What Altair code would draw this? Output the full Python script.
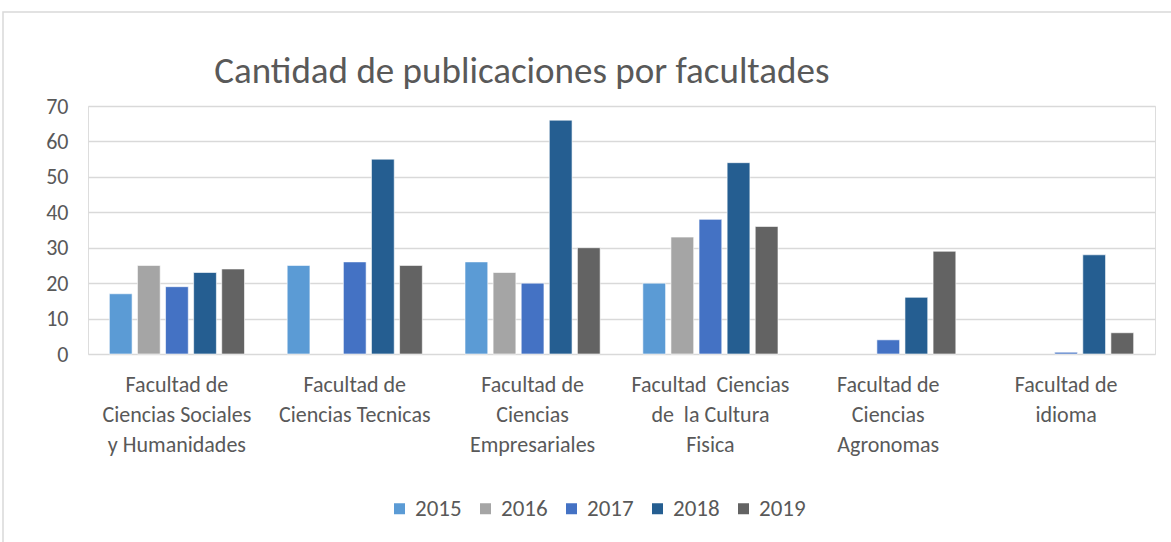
import altair as alt
import pandas as pd

categories = [
    "Facultad de\nCiencias Sociales\ny Humanidades",
    "Facultad de\nCiencias Tecnicas",
    "Facultad de\nCiencias\nEmpresariales",
    "Facultad\u00a0 Ciencias\nde\u00a0 la Cultura\nFisica",
    "Facultad de\nCiencias\nAgronomas",
    "Facultad de\nidioma",
]
years = ["2015", "2016", "2017", "2018", "2019"]
v2015 = [17, 25, 26, 20, 0, 0]
v2016 = [25, 0, 23, 33, 0, 0]
v2017 = [19, 26, 20, 38, 4, 0.5]
v2018 = [23, 55, 66, 54, 16, 28]
v2019 = [24, 25, 30, 36, 29, 6]
colors = ["#5B9BD5", "#A5A5A5", "#4472C4", "#255E91", "#636363"]

series = [v2015, v2016, v2017, v2018, v2019]
rows = []
for yr, vals in zip(years, series):
    for c, v in zip(categories, vals):
        rows.append({"Facultad": c, "Año": yr, "Valor": v})
df = pd.DataFrame(rows)

FONT = "Carlito, Lato, 'Liberation Sans Narrow', 'Open Sans', sans-serif"
TXT = "#595959"

bars = alt.Chart(df).transform_filter("datum.Valor > 0").mark_bar(
    stroke="white", strokeWidth=0.6
).encode(
    x=alt.X("Facultad:N", sort=categories, title=None,
            scale=alt.Scale(domain=categories, paddingInner=0.24, paddingOuter=0.12),
            axis=alt.Axis(labelExpr="split(datum.label, '\\n')", labelAngle=0,
                          labelFontSize=22, labelLineHeight=30, labelColor=TXT,
                          labelFont=FONT, domain=False, ticks=False, labelPadding=20,
                          labelLimit=300)),
    xOffset=alt.XOffset("Año:N", scale=alt.Scale(domain=years, paddingInner=0.19)),
    y=alt.Y("Valor:Q", title=None,
            scale=alt.Scale(domain=[0, 70]),
            axis=alt.Axis(values=[0, 10, 20, 30, 40, 50, 60, 70], labelFontSize=22,
                          labelColor=TXT, labelFont=FONT, domain=False, ticks=False,
                          labelPadding=20, gridColor="#D9D9D9", gridWidth=1.5)),
    color=alt.Color("Año:N",
                    scale=alt.Scale(domain=years, range=colors),
                    legend=alt.Legend(orient="none", direction="horizontal", title=None,
                                      legendX=300, legendY=391,
                                      symbolType="square", symbolSize=121,
                                      symbolStrokeWidth=0, labelFontSize=23,
                                      labelColor=TXT, labelFont=FONT,
                                      columnPadding=12, labelOffset=4)),
)

border = alt.Chart(pd.DataFrame({"a": [0]})).mark_rect(
    fill=None, stroke="#D9D9D9", strokeWidth=1.5
).encode(x=alt.value(-85), x2=alt.value(1100), y=alt.value(-94), y2=alt.value(460))

chart = alt.layer(bars, border).properties(
    width=1067, height=248,
    autosize=alt.AutoSizeParams(type="none"),
    padding={"left": 88, "top": 106, "right": 16, "bottom": 188},
    title=alt.TitleParams("Cantidad de publicaciones por facultades", anchor="start",
                          dx=212, dy=80, fontSize=37, fontWeight="normal", color=TXT,
                          font=FONT, offset=0),
).configure_view(stroke=None).configure(background="white")

chart.save("out.html", embed_options={"renderer": "svg", "actions": False})
